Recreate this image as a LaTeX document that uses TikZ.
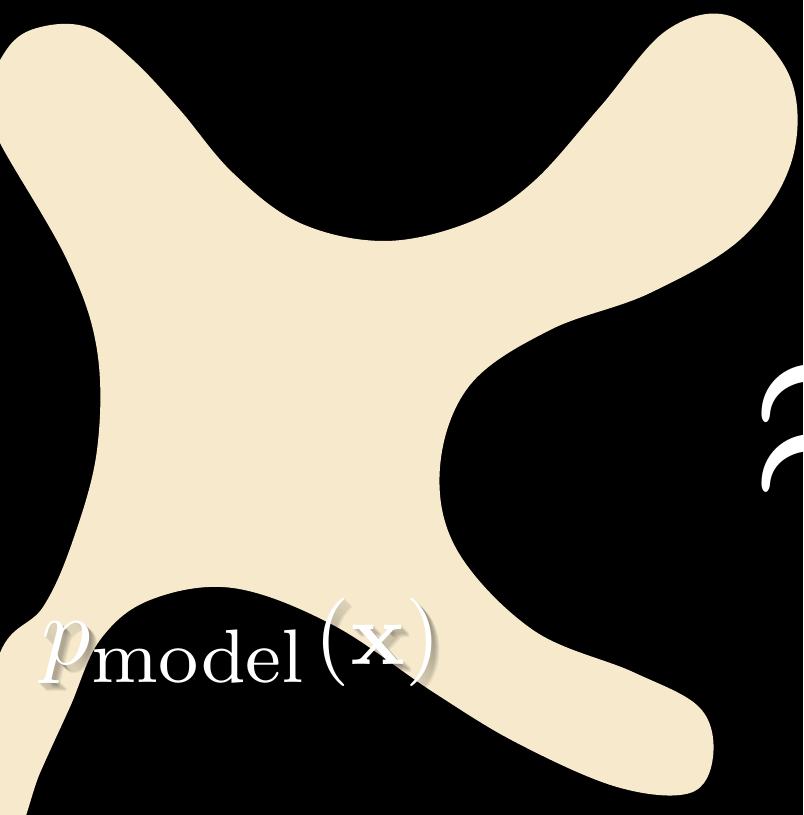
\documentclass[tikz,border=0pt]{standalone}
\usepackage{tikz}
\definecolor{Ccreme}{RGB}{246,233,204}
\definecolor{Cfundo}{RGB}{0,0,0}
\newcommand{\ptexto}{$p$\raisebox{-1.85pt}{\fontsize{7.7}{9}\selectfont model}\hspace{1.1pt}{\fontsize{9}{10}\selectfont(\textbf{x})}}

\begin{document}
\begin{tikzpicture}[x=0.025cm, y=-0.025cm,
      blob/.style={fill=Ccreme, draw=none},
      mlabel/.style={text=white, inner sep=0pt, anchor=base west, scale=7, transform shape},
      msombra/.style={mlabel, text=black, opacity=0.06}]
    % Moldura
    \useasboundingbox (0,0) rectangle (803,815);
    \clip (0,0) rectangle (803,815);
    \fill[Cfundo] (0,0) rectangle (803,815);
    % Distribuicao do modelo
    \fill[blob] plot[smooth cycle, tension=0.6] coordinates {
      (-15,100) (10,45) (45,26) (90,28) (133,60) (180,110)
      (233,173) (300,223) (385,241) (470,222) (533,182) (600,107)
      (667,30) (733,17) (790,77) (792,160) (743,237) (650,293)
      (550,330) (470,385) (440,467) (457,550) (533,630) (633,672)
      (700,708) (713,757) (690,793) (617,787) (517,743) (433,692)
      (333,625) (233,588) (150,600) (100,640) (70,707) (40,773)
      (12,840) (-25,780) (0,653) (43,607) (73,540) (97,450)
      (97,350) (67,260) (0,143)};
    % Rotulo (com sombra difusa)
    \foreach \d in {1,...,8}
      \node[msombra] (sombra\d) at (40+\d,664+\d) {\ptexto};
    \node[mlabel] (pmodel) at (40,664) {\ptexto};
    % Aproximacao
    \node[text=white, inner sep=0pt, anchor=base west, scale=21.3, transform shape] (aprox) at (739,509) {$\approx$};
\end{tikzpicture}
\end{document}
